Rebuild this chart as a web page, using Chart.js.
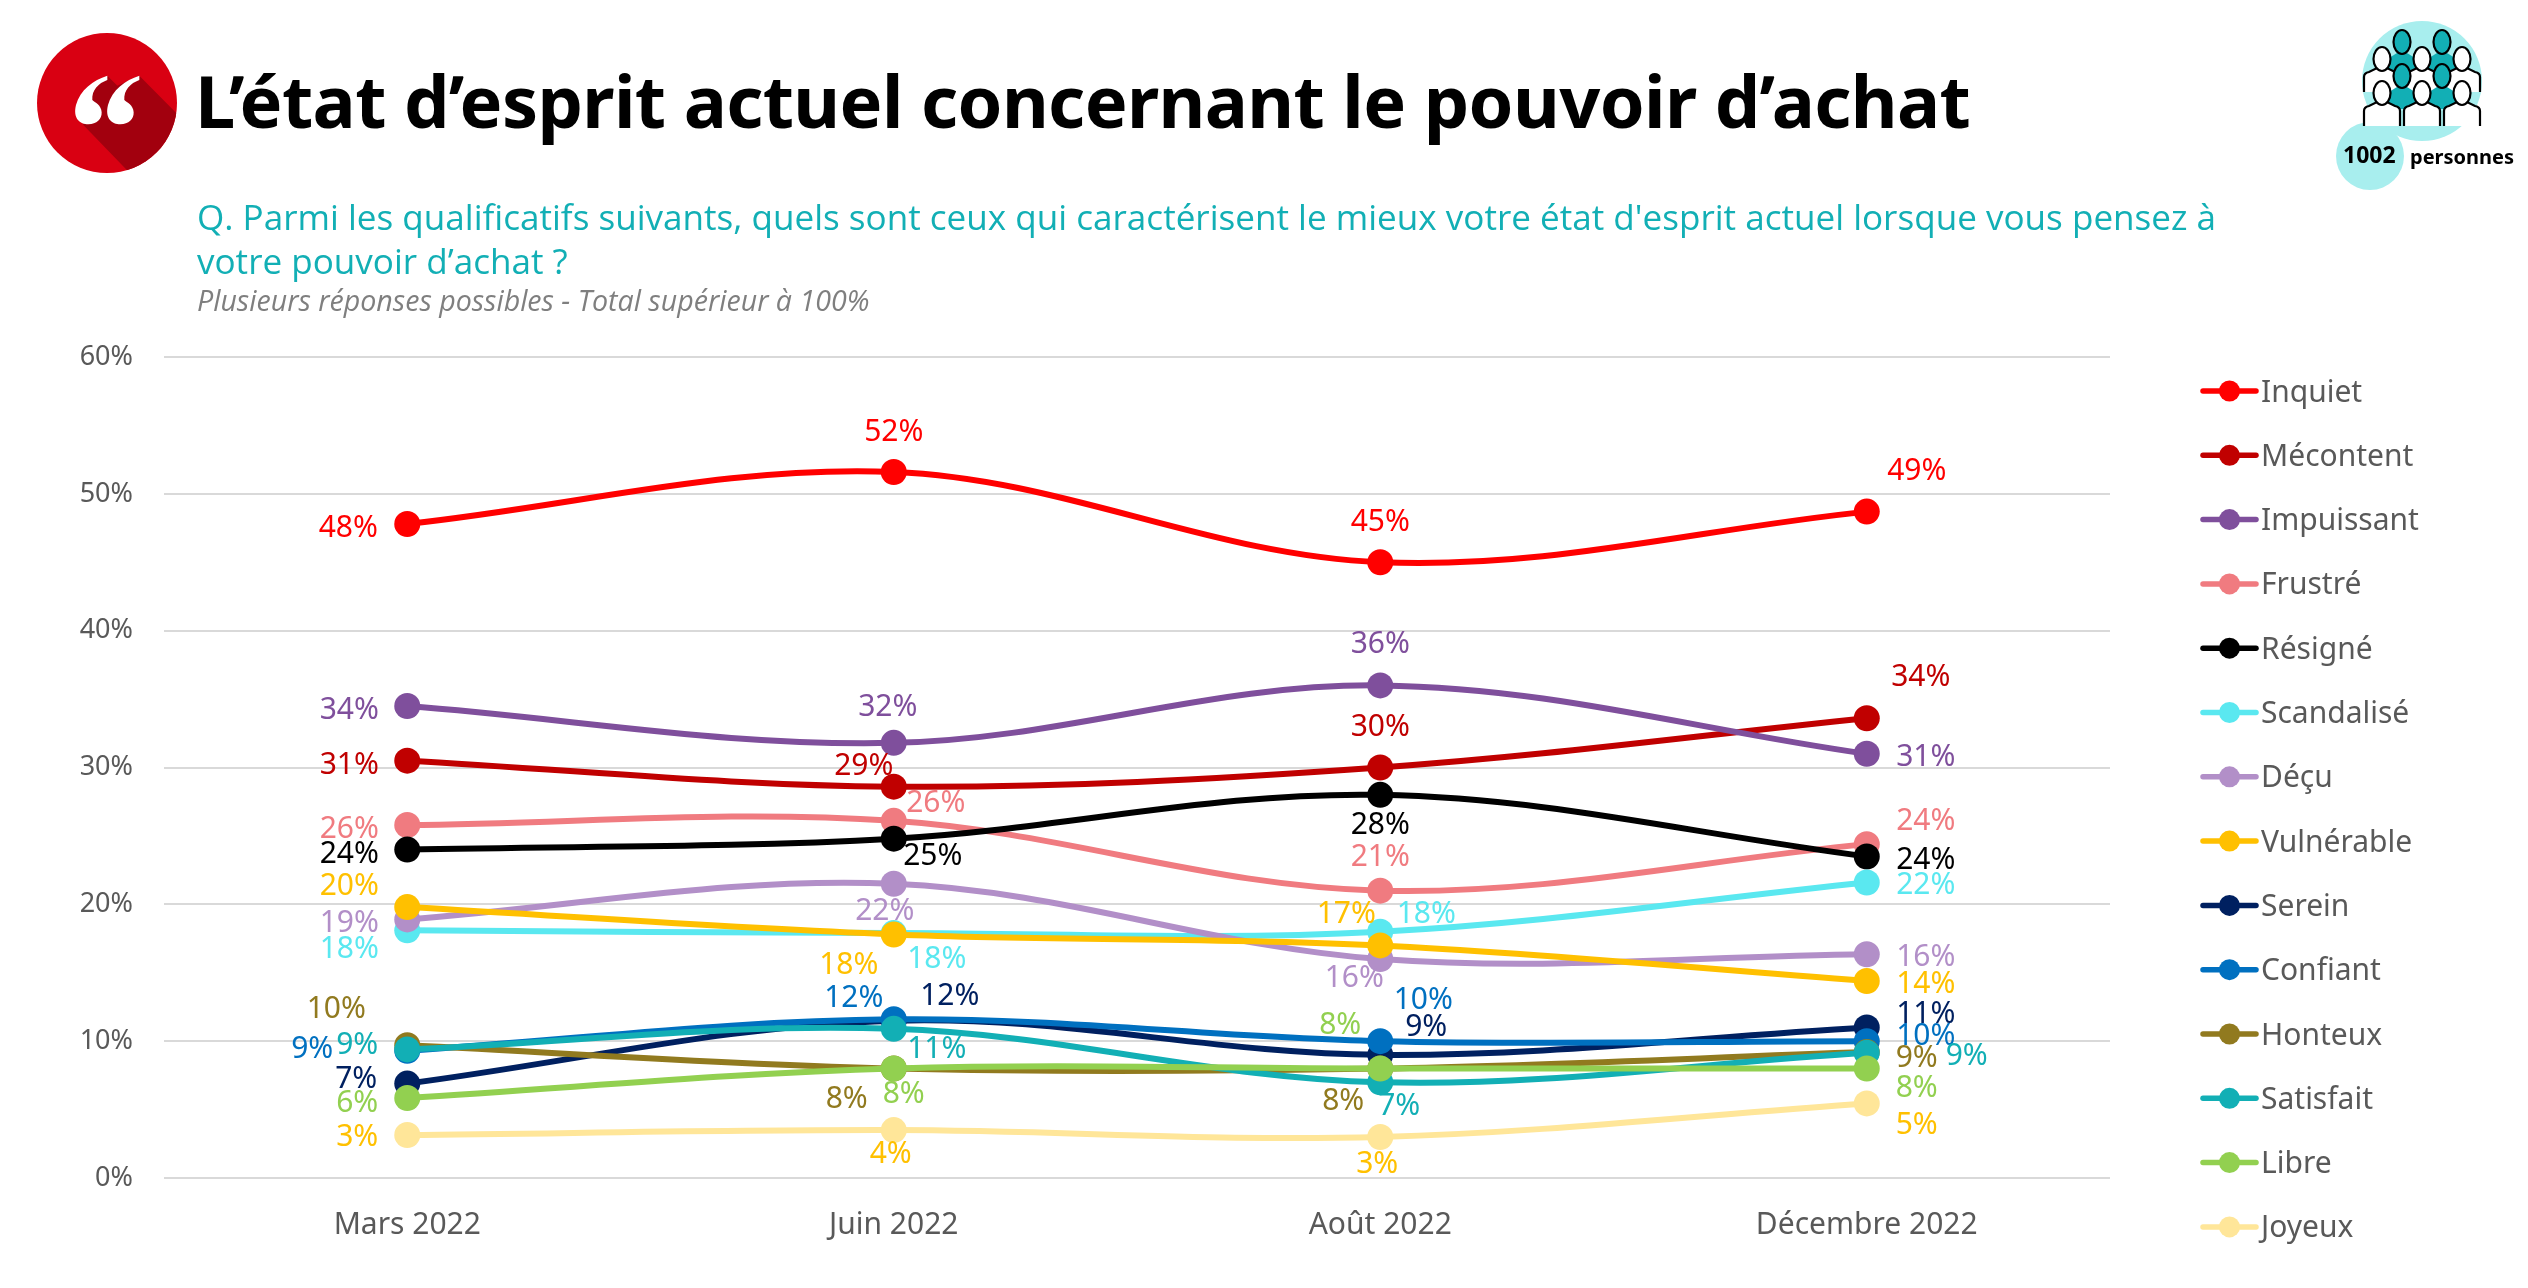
<!DOCTYPE html>
<html lang="fr">
<head>
<meta charset="utf-8">
<title>Pouvoir d'achat</title>
<script src="https://cdn.jsdelivr.net/npm/chart.js@4"></script>
<style>
  html, body { margin: 0; padding: 0; background: #fff; width: 2528px; height: 1288px; overflow: hidden; }
  canvas { position: absolute; left: 0; top: 0; }
  .txt { position: absolute; white-space: nowrap; font-family: "Noto Sans", sans-serif; }
  #title { left: 195px; top: 50px; font-size: 72px; font-weight: 700; color: #000; line-height: 100px; letter-spacing: -0.6px; }
  .question { left: 197px; font-size: 35.1px; color: #12AFB5; line-height: 44px; font-family: "Open Sans", sans-serif; }
  #note { left: 197px; top: 282px; font-size: 28.6px; font-style: italic; color: #7F7F7F; line-height: 36px; font-family: "Open Sans", sans-serif; }
  #n1 { left: 2343px; top: 138px; font-size: 23px; font-weight: 700; color: #000; line-height: 32px; }
  #n2 { left: 2410px; top: 141px; font-size: 20px; font-weight: 700; color: #000; line-height: 32px; }
  svg { position: absolute; left: 0; top: 0; }
</style>
</head>
<body>
<canvas id="chart" width="2528" height="1288"></canvas>

<svg width="2528" height="1288" viewBox="0 0 2528 1288">
  <defs>
    <clipPath id="badge"><circle cx="107" cy="103" r="70"/></clipPath>
    <path id="quoteMark" fill="#fff" d="M232,152 C190,165 150,195 138,240 C128,280 150,298 175,298 C200,298 216,282 215,262 C214,240 195,232 187,225 C185,195 205,175 232,165 Z"/>
    <g id="whitePerson" stroke="#000" stroke-width="2.2" fill="#fff">
      <path d="M-18,33 V18 Q-18,14 -13,13 L-5,9 H5 L13,13 Q18,14 18,18 V33"/>
      <ellipse cx="0" cy="0" rx="8.5" ry="12"/>
    </g>
    <g id="tealPerson" stroke="#000" stroke-width="2.2" fill="#12AFB5">
      <path d="M-13,33 V16 L-5,11 H5 L13,16 V33 Z" stroke="none"/>
      <ellipse cx="0" cy="0" rx="8.5" ry="12"/>
    </g>
  </defs>
  <circle cx="107" cy="103" r="70" fill="#D90012"/>
  <g clip-path="url(#badge)">
    <polygon transform="translate(30 25) scale(0.3333)" points="232,152 262,182 328,152 450,275 450,450 305,450 160,300 140,250" fill="#A2000E"/>
  </g>
  <use href="#quoteMark" transform="translate(30 25) scale(0.3333)"/>
  <use href="#quoteMark" transform="translate(62 25) scale(0.3333)"/>

  <circle cx="2422" cy="81" r="60" fill="#A8EEEE"/>
  <circle cx="2370" cy="156" r="34" fill="#A8EEEE"/>
  <use href="#tealPerson" x="2402" y="42"/>
  <use href="#tealPerson" x="2442" y="42"/>
  <use href="#whitePerson" x="2382" y="59"/>
  <use href="#whitePerson" x="2422" y="59"/>
  <use href="#whitePerson" x="2462" y="59"/>
  <use href="#tealPerson" x="2402" y="76"/>
  <use href="#tealPerson" x="2442" y="76"/>
  <use href="#whitePerson" x="2382" y="93"/>
  <use href="#whitePerson" x="2422" y="93"/>
  <use href="#whitePerson" x="2462" y="93"/>
</svg>

<div class="txt" id="title">L’état d’esprit actuel concernant le pouvoir d’achat</div>
<div class="txt question" style="top:194px">Q. Parmi les qualificatifs suivants, quels sont ceux qui caractérisent le mieux votre état d'esprit actuel lorsque vous pensez à</div>
<div class="txt question" style="top:238px">votre pouvoir d’achat ?</div>
<div class="txt" id="note">Plusieurs réponses possibles - Total supérieur à 100%</div>
<div class="txt" id="n1">1002</div>
<div class="txt" id="n2">personnes</div>

<script>
const categories = ['Mars 2022', 'Juin 2022', 'Août 2022', 'Décembre 2022'];
const yTicks = [0, 10, 20, 30, 40, 50, 60];

const seriesNames = ['Inquiet', 'Mécontent', 'Impuissant', 'Frustré', 'Résigné', 'Scandalisé', 'Déçu', 'Vulnérable', 'Serein', 'Confiant', 'Honteux', 'Satisfait', 'Libre', 'Joyeux'];

const inquiet    = [47.8, 51.6, 45.0, 48.7];
const mecontent  = [30.5, 28.6, 30.0, 33.6];
const impuissant = [34.49, 31.8, 36.0, 31.0];
const frustre    = [25.8, 26.1, 21.0, 24.4];
const resigne    = [24.0, 24.8, 28.0, 23.5];
const scandalise = [18.1, 17.9, 18.0, 21.6];
const decu       = [18.9, 21.5, 16.0, 16.35];
const vulnerable = [19.8, 17.8, 17.0, 14.4];
const serein     = [6.9, 11.5, 9.0, 11.0];
const confiant   = [9.3, 11.6, 10.0, 10.0];
const honteux    = [9.7, 8.0, 8.0, 9.2];
const satisfait  = [9.4, 10.9, 7.0, 9.15];
const libre      = [5.85, 8.0, 8.0, 8.0];
const joyeux     = [3.14, 3.5, 3.0, 5.45];

const seriesValues = [inquiet, mecontent, impuissant, frustre, resigne, scandalise, decu, vulnerable, serein, confiant, honteux, satisfait, libre, joyeux];
const lineColors = ['#FF0000', '#C00000', '#7F4F9C', '#F07B80', '#000000', '#5AE8F0', '#B28FC8', '#FFC000', '#002060', '#0070C0', '#917A1F', '#12AFB5', '#92D050', '#FFE699'];
const labelColors = ['#FF0000', '#C00000', '#7F4F9C', '#F07B80', '#000000', '#5AE8F0', '#B28FC8', '#FFC000', '#002060', '#0070C0', '#917A1F', '#12AFB5', '#92D050', '#FFC000'];

// data labels were placed by hand in the original: pixel shift from each point
const labelShifts = [
  [[-59, 3], [0, -41], [0, -41], [50, -42]],
  [[-58, 3], [-30, -22], [0, -42], [54, -42]],
  [[-58, 3], [-6, -37], [0, -42], [59, 2]],
  [[-58, 3], [42, -19], [0, -35], [59, -24]],
  [[-58, 3], [39, 16], [0, 29], [59, 3]],
  [[-58, 18], [43, 25], [46, -19], [59, 2]],
  [[-58, 3], [-9, 26], [-26, 18], [59, 2]],
  [[-58, -22], [-45, 30], [-34, -32], [59, 2]],
  [[-51, -6], [56, -26], [46, -29], [59, -15]],
  [[-95, -3], [-40, -22], [43, -42], [59, -6]],
  [[-71, -37], [-47, 29], [-37, 31], [50, 5]],
  [[-50, -5], [43, 19], [19, 23], [100, 2]],
  [[-50, 4], [10, 24], [-40, -45], [50, 18]],
  [[-50, 1], [-3, 23], [-3, 26], [50, 21]]
];

const dataLabels = {
  id: 'dataLabels',
  afterDatasetsDraw(chart) {
    const ctx = chart.ctx;
    ctx.save();
    ctx.font = '30px "Noto Sans"';
    ctx.textAlign = 'center';
    ctx.textBaseline = 'middle';
    chart.data.datasets.forEach((ds, i) => {
      chart.getDatasetMeta(i).data.forEach((pt, j) => {
        ctx.fillStyle = labelColors[i];
        ctx.fillText(Math.round(ds.data[j]) + '%', pt.x + labelShifts[i][j][0], pt.y + labelShifts[i][j][1] + 1.5);
      });
    });
    ctx.restore();
  }
};

// the legend sample is a line with a dot on it, which the built-in legend can't do
const lineLegend = {
  id: 'lineLegend',
  afterDraw(chart) {
    const ctx = chart.ctx;
    ctx.save();
    ctx.textBaseline = 'middle';
    ctx.textAlign = 'left';
    chart.data.datasets.forEach((ds, i) => {
      const y = 391 + i * 64.3;
      ctx.strokeStyle = ds.borderColor;
      ctx.fillStyle = ds.borderColor;
      ctx.lineWidth = 5.5;
      ctx.lineCap = 'round';
      ctx.beginPath();
      ctx.moveTo(2203, y);
      ctx.lineTo(2256, y);
      ctx.stroke();
      ctx.beginPath();
      ctx.arc(2229.5, y, 10.5, 0, Math.PI * 2);
      ctx.fill();
      ctx.font = '30px "Noto Sans"';
      ctx.fillStyle = '#595959';
      ctx.fillText(ds.label, 2261, y + 2);
    });
    ctx.restore();
  }
};

new Chart(document.getElementById('chart'), {
  type: 'line',
  data: {
    labels: categories,
    datasets: seriesNames.map((name, i) => ({
      label: name,
      data: seriesValues[i],
      borderColor: lineColors[i],
      backgroundColor: lineColors[i],
      borderWidth: 6,
      pointRadius: 13,
      pointHoverRadius: 13,
      pointBorderWidth: 0,
      tension: 0.35,
      fill: false,
      order: seriesNames.length - i
    }))
  },
  options: {
    responsive: false,
    devicePixelRatio: 1,
    animation: false,
    layout: { padding: { left: 0, top: 357, right: 418, bottom: 0 } },
    plugins: {
      legend: { display: false },
      title: { display: false },
      tooltip: { enabled: false }
    },
    scales: {
      x: {
        offset: true,
        afterFit: (axis) => { axis.height = 110; },
        grid: { display: false, drawTicks: false },
        border: { display: false },
        ticks: { color: '#595959', padding: 29, font: { family: 'Noto Sans', size: 30 } }
      },
      y: {
        min: yTicks[0],
        max: yTicks[yTicks.length - 1],
        afterFit: (axis) => { axis.width = 164; },
        afterBuildTicks: (axis) => { axis.ticks = yTicks.map(v => ({ value: v })); },
        grid: { color: '#D9D9D9', lineWidth: 2, drawTicks: false },
        border: { display: false },
        ticks: { color: '#595959', padding: 31, font: { family: 'Noto Sans', size: 27 }, callback: v => v + '%' }
      }
    }
  },
  plugins: [dataLabels, lineLegend]
});
</script>
</body>
</html>
